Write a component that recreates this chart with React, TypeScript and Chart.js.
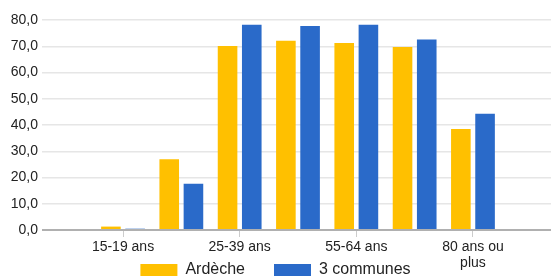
import React, { useEffect, useRef } from "react";
import { Chart, registerables } from "chart.js";

Chart.register(...registerables);

const categories = ["15-19 ans", "20-24 ans", "25-39 ans", "40-54 ans", "55-64 ans", "65-79 ans", "80 ans ou plus"];
const ardeche = [1.3, 27.0, 70.1, 72.1, 71.2, 69.7, 38.5];
const communes = [0.5, 17.6, 78.2, 77.7, 78.2, 72.6, 44.3];
const yTicks = [0, 10, 20, 30, 40, 50, 60, 70, 80];

const FONT = "'Liberation Sans', Arial, sans-serif";

function wrapLabel(s: string): string | string[] {
  if (s.length <= 12) return s;
  const i = s.lastIndexOf(" ");
  return [s.slice(0, i), s.slice(i + 1)];
}

export default function App() {
  const ref = useRef<HTMLCanvasElement | null>(null);
  useEffect(() => {
    if (!ref.current) return;
    const chart = new Chart(ref.current, {
      type: "bar",
      data: {
        datasets: [
          {
            label: "Ardèche",
            data: ardeche.map((v, i) => ({ x: i, y: v })),
            backgroundColor: "#ffc000",
            borderWidth: 0,
            categoryPercentage: 0.83,
            barPercentage: 0.81,
          },
          {
            label: "3 communes",
            data: communes.map((v, i) => ({ x: i, y: v })),
            backgroundColor: "#2a6ac9",
            borderWidth: 0,
            categoryPercentage: 0.83,
            barPercentage: 0.81,
          },
        ],
      },
      options: {
        responsive: false,
        animation: false,
        devicePixelRatio: 1,
        layout: { padding: { top: 20, bottom: -10, left: 0, right: 0 } },
        plugins: {
          tooltip: { enabled: false },
          legend: {
            position: "bottom",
            labels: {
              boxWidth: 37,
              boxHeight: 12,
              padding: 29,
              color: "#222",
              font: { family: FONT, size: 16 },
            },
          },
        },
        scales: {
          x: {
            type: "linear",
            offset: false,
            min: -1.389,
            max: 7.338,
            afterFit: (s: any) => {
              s.height = 3;
              s._computeLabelArea = () => undefined;
            },
            border: { display: false },
            grid: {
              offset: false,
              drawOnChartArea: false,
              drawTicks: true,
              tickLength: 7,
              color: (ctx: any) => {
                const v = ctx.tick ? ctx.tick.value : NaN;
                return Number.isInteger(v) && v >= 0 && v < categories.length ? "#cccccc" : "rgba(0,0,0,0)";
              },
            },
            ticks: {
              stepSize: 2,
              includeBounds: false,
              autoSkip: false,
              maxRotation: 0,
              padding: 2,
              color: "#222",
              font: { family: FONT, size: 14, lineHeight: 1.15 },
              callback: (v: any) => {
                const n = Number(v);
                if (Number.isInteger(n) && n >= 0 && n < categories.length) return wrapLabel(categories[n]);
                return "";
              },
            },
          },
          y: {
            min: 0,
            max: 80,
            afterFit: (s: any) => {
              s.width = 42;
            },
            border: { display: false },
            grid: {
              drawTicks: false,
              lineWidth: (ctx: any) => (ctx.tick && ctx.tick.value === 0 ? 2 : 1.5),
              color: (ctx: any) => (ctx.tick && ctx.tick.value === 0 ? "#b0b0b0" : "#e6e6e6"),
            },
            afterBuildTicks: (s: any) => {
              s.ticks = yTicks.map((v) => ({ value: v }));
            },
            ticks: {
              padding: 4,
              color: "#222",
              font: { family: FONT, size: 14 },
              callback: (v: any) => Number(v).toFixed(1).replace(".", ","),
            },
          },
        },
      },
    } as any);
    return () => chart.destroy();
  }, []);
  return (
    <div style={{ position: "fixed", left: 0, top: 0, width: 551, height: 278, background: "#fff" }}>
      <canvas ref={ref} width={551} height={278} />
    </div>
  );
}
